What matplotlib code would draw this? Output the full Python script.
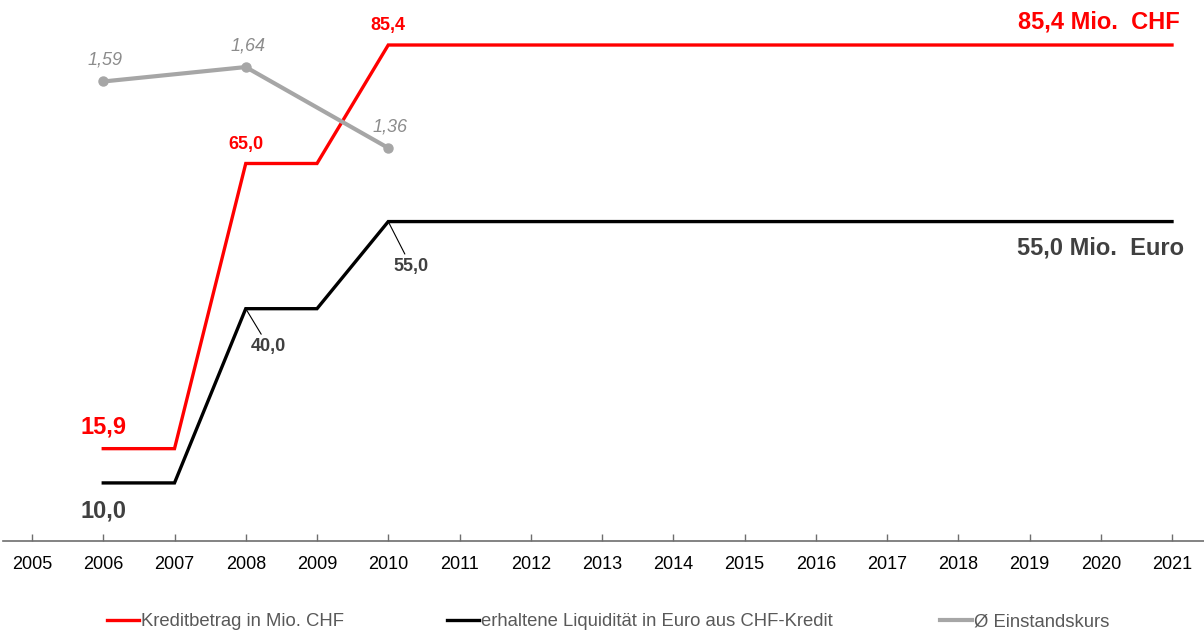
import matplotlib.pyplot as plt
from matplotlib.lines import Line2D

# Daten
jahre = list(range(2005, 2022))
jahre_kredit = list(range(2006, 2022))
kredit_chf = [15.9, 15.9, 65.0, 65.0] + [85.4] * 12
liquiditaet_eur = [10.0, 10.0, 40.0, 40.0] + [55.0] * 12
jahre_kurs = [2006, 2008, 2010]
einstandskurs = [1.59, 1.64, 1.36]

ROT = '#ff0000'
SCHWARZ = '#000000'
GRAU = '#a6a6a6'
DUNKEL = '#404040'

plt.rcParams['font.family'] = ['Liberation Sans', 'DejaVu Sans']


def fmt(v, stellen=1):
    return f'{v:.{stellen}f}'.replace('.', ',')


fig = plt.figure(figsize=(12.04, 6.30), dpi=100)
ax = fig.add_axes([3 / 1204, 89 / 630, 1 - 3 / 1204, 541 / 630])
ax2 = ax.twinx()

ax.set_xlim(2004.593, 2021.449)
ax.set_ylim(0, 93.15)
ax2.set_ylim(0, 1.872)

l1, = ax.plot(jahre_kredit, kredit_chf, color=ROT, lw=2.4, solid_joinstyle='miter')
l2, = ax.plot(jahre_kredit, liquiditaet_eur, color=SCHWARZ, lw=2.4, solid_joinstyle='miter')
l3, = ax2.plot(jahre_kurs, einstandskurs, color=GRAU, lw=3, marker='o', ms=6.5)

# Achsen
for a in (ax, ax2):
    for s in ('top', 'left', 'right'):
        a.spines[s].set_visible(False)
    a.set_yticks([])
ax2.spines['bottom'].set_visible(False)
ax.spines['bottom'].set_color('#6e6e6e')
ax.spines['bottom'].set_linewidth(1.2)
ax.set_xticks(jahre)
ax.set_xticklabels([str(j) for j in jahre], fontsize=13, color='black')
ax.tick_params(axis='x', direction='in', length=5, width=1, color='#6e6e6e', pad=11)
ax2.tick_params(axis='x', bottom=False, labelbottom=False)


def label(a, x, y, text, dx, dy, color, size, weight='bold', style='normal', ha='center', line=False):
    kw = {}
    if line:
        kw['arrowprops'] = dict(arrowstyle='-', color='black', lw=0.8, shrinkA=1, shrinkB=0)
    a.annotate(text, xy=(x, y), xytext=(dx, dy), textcoords='offset pixels',
               ha=ha, va='center', color=color, fontsize=size, fontweight=weight,
               fontstyle=style, **kw)


# Beschriftungen Kredit CHF
label(ax, 2006, kredit_chf[0], fmt(kredit_chf[0]), 0, 22, ROT, 17)
label(ax, 2008, kredit_chf[2], fmt(kredit_chf[2]), 0, 19, ROT, 13)
label(ax, 2010, kredit_chf[4], fmt(kredit_chf[4]), 0, 20, ROT, 13)
label(ax, 2021, kredit_chf[-1], fmt(kredit_chf[-1]) + ' Mio.  CHF', 8, 23, ROT, 17, ha='right')

# Beschriftungen Liquiditaet Euro
label(ax, 2006, liquiditaet_eur[0], fmt(liquiditaet_eur[0]), 0, -28, DUNKEL, 17)
label(ax, 2008, liquiditaet_eur[2], fmt(liquiditaet_eur[2]), 23, -38, DUNKEL, 13, line=True)
label(ax, 2010, liquiditaet_eur[4], fmt(liquiditaet_eur[4]), 23, -45, DUNKEL, 13, line=True)
label(ax, 2021, liquiditaet_eur[-1], fmt(liquiditaet_eur[-1]) + ' Mio.  Euro', 12, -26, DUNKEL, 17, ha='right')

# Einstandskurs
for j, k in zip(jahre_kurs, einstandskurs):
    label(ax2, j, k, fmt(k, 2), 2, 21, '#8c8c8c', 13, weight='normal', style='italic')

# Legende
eintraege = [(l1, 'Kreditbetrag in Mio. CHF', 107),
             (l2, 'erhaltene Liquidität in Euro aus CHF-Kredit', 447),
             (l3, 'Ø Einstandskurs', 940)]
for linie, text, xpos in eintraege:
    h = Line2D([], [], color=linie.get_color(), lw=linie.get_linewidth())
    fig.legend([h], [text], loc='center left', bbox_to_anchor=(xpos / 1204, 8 / 630),
               frameon=False, fontsize=13.3, handlelength=1.75, handletextpad=0.1,
               borderaxespad=0, borderpad=0, labelcolor='#595959')

fig.savefig('out.png', dpi=100)
